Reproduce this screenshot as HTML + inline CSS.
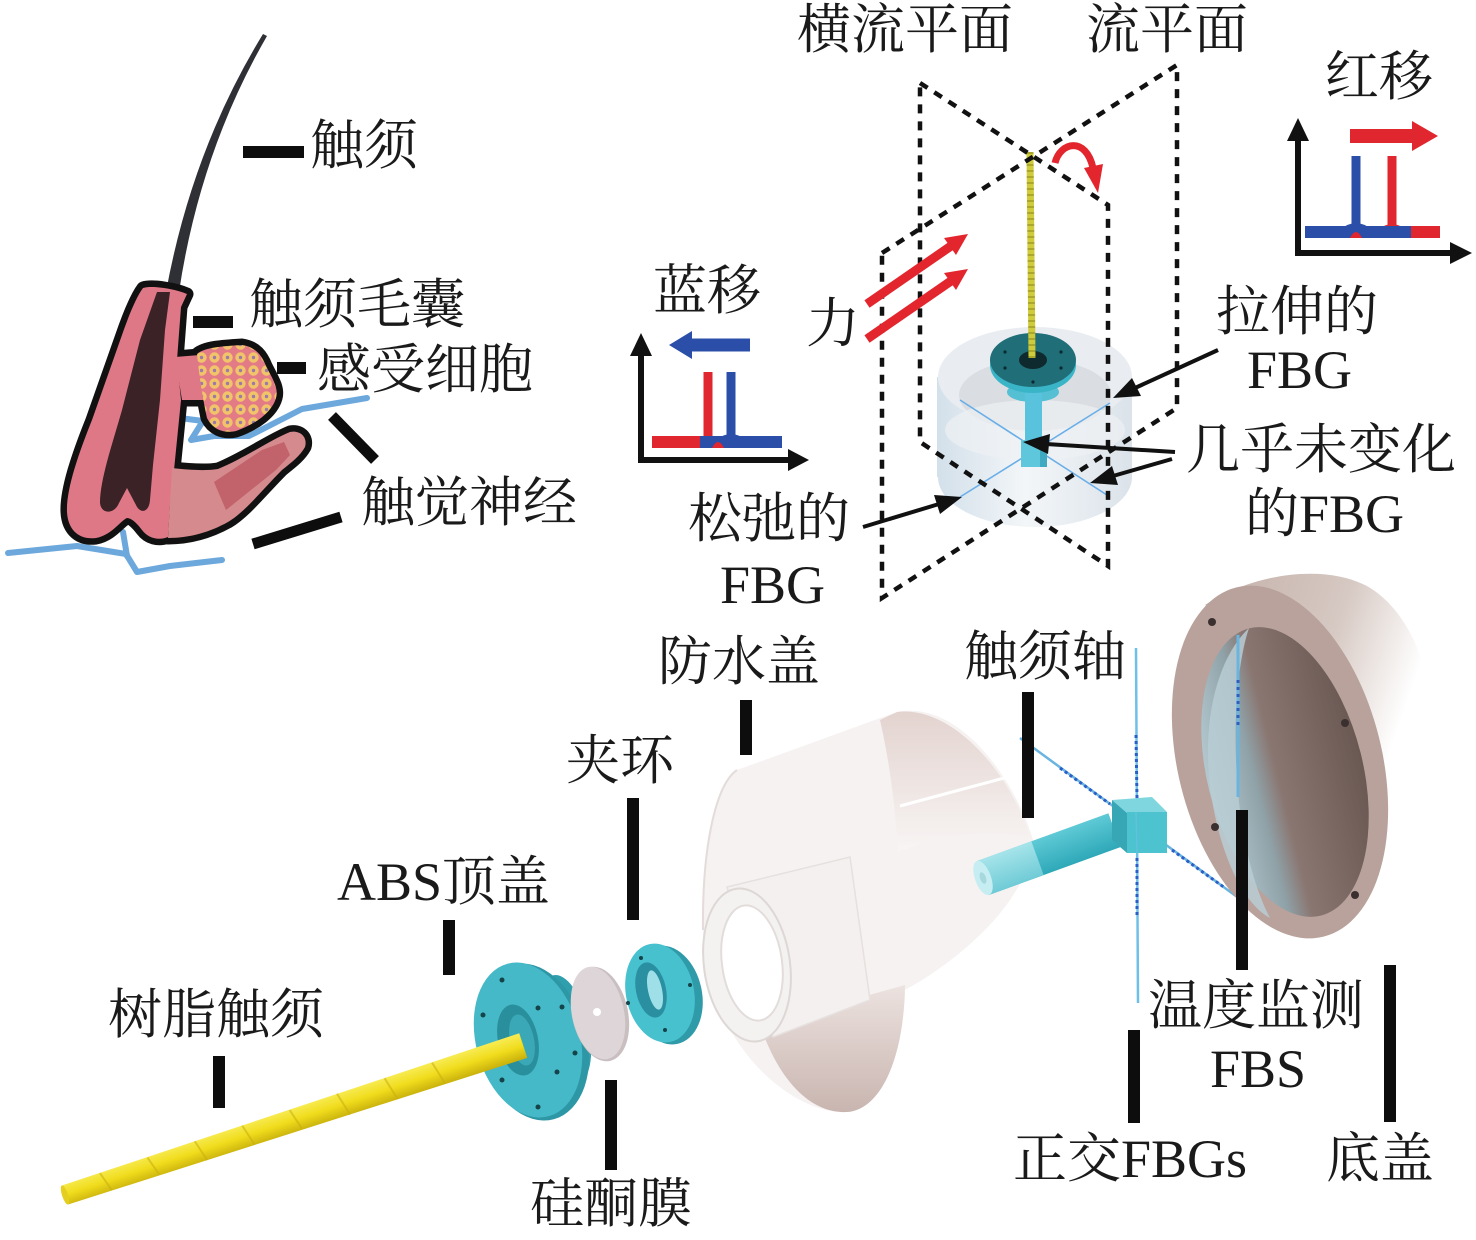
<!DOCTYPE html>
<html>
<head>
<meta charset="utf-8">
<style>
html,body{margin:0;padding:0;background:#fff;}
svg{display:block;}
text{font-family:"Liberation Serif","Noto Serif CJK SC",serif;font-size:54px;fill:#1a1a1a;}
</style>
</head>
<body>
<svg width="1476" height="1240" viewBox="0 0 1476 1240" xmlns="http://www.w3.org/2000/svg">
<defs>
  <pattern id="cells" width="13" height="13" patternUnits="userSpaceOnUse">
    <rect width="13" height="13" fill="#e27b86"/>
    <circle cx="6.5" cy="6.5" r="5.2" fill="#f2c46a"/>
    <circle cx="6.5" cy="6.5" r="1.7" fill="#9a7aa8"/>
  </pattern>
  <linearGradient id="cylG" x1="0" y1="0" x2="1" y2="0">
    <stop offset="0" stop-color="#d3e0ea"/>
    <stop offset="0.45" stop-color="#f3f6f8"/>
    <stop offset="1" stop-color="#dbe3ea"/>
  </linearGradient>
  <linearGradient id="rodG" x1="0" y1="0" x2="0" y2="1">
    <stop offset="0" stop-color="#f8ec55"/>
    <stop offset="0.5" stop-color="#f0dc1c"/>
    <stop offset="1" stop-color="#c8b00c"/>
  </linearGradient>
  <linearGradient id="wpTop" x1="0" y1="0" x2="0" y2="1">
    <stop offset="0" stop-color="#e3d3cf"/>
    <stop offset="1" stop-color="#f8f5f4"/>
  </linearGradient>
  <linearGradient id="wpBot" x1="0" y1="0" x2="0" y2="1">
    <stop offset="0" stop-color="#ece2df"/>
    <stop offset="1" stop-color="#c9b5b0"/>
  </linearGradient>
  <linearGradient id="baseBody" x1="0" y1="0" x2="1" y2="0.3">
    <stop offset="0" stop-color="#c2b0a8"/>
    <stop offset="0.6" stop-color="#d6c8c2"/>
    <stop offset="1" stop-color="#ffffff"/>
  </linearGradient>
  <linearGradient id="baseIn" x1="0" y1="0" x2="1" y2="0">
    <stop offset="0" stop-color="#b4c8d0"/>
    <stop offset="0.3" stop-color="#8fa2a8"/>
    <stop offset="0.45" stop-color="#8a7671"/>
    <stop offset="1" stop-color="#6a5853"/>
  </linearGradient>
  <linearGradient id="shaftG" x1="0" y1="0" x2="0" y2="1">
    <stop offset="0" stop-color="#5fcad6"/>
    <stop offset="1" stop-color="#2ea8b8"/>
  </linearGradient>
  <linearGradient id="shaftL" x1="0" y1="0" x2="0" y2="1">
    <stop offset="0" stop-color="#a6e4ea"/>
    <stop offset="1" stop-color="#6fcbd6"/>
  </linearGradient>
</defs>

<!-- ================= Left: biological whisker ================= -->
<path d="M263,34 Q192,150 166,292 L179,292 Q200,152 267,36 Z" fill="#2f2f36"/>

<g fill="none" stroke="#5d9fd8" stroke-width="6" stroke-linejoin="round" stroke-linecap="round" opacity="0.9">
  <polyline points="8,553 77,546 126,554 137,572 170,566 222,560"/>
  <line x1="123" y1="532" x2="127" y2="556"/>
  <polyline points="172,417 203,421 191,440 214,436 249,436 302,409 367,398"/>
</g>

<g fill="none" stroke="#111" stroke-width="13" stroke-linejoin="round">
  <path d="M143,288 C152,285 176,289 187,294 L181,307 L177,360 L181,400 L174,470 L170,505 L168,537 C158,541 148,538 142,530 C136,522 131,518 127,518 C120,521 112,535 96,538 C80,540 68,531 67,512 C66,490 78,455 92,420 L122,335 C130,312 137,296 143,288 Z"/>
  <path d="M175,357 L200,355 L205,400 L182,400 Z"/>
  <path d="M197,354 C205,347 225,346 242,345 C256,347 262,356 266,366 C272,378 279,388 276,398 C272,412 256,424 236,431 C222,434 212,428 207,418 C203,400 199,375 197,354 Z"/>
  <path d="M172,468 C190,470 205,471 218,469 C245,458 270,440 290,432 C300,430 308,437 305,447 C300,456 292,462 282,470 C262,490 245,512 228,522 C210,532 190,538 168,538 Z"/>
</g>
<path d="M143,288 C152,285 176,289 187,294 L181,307 L177,360 L181,400 L174,470 L170,505 L168,537 C158,541 148,538 142,530 C136,522 131,518 127,518 C120,521 112,535 96,538 C80,540 68,531 67,512 C66,490 78,455 92,420 L122,335 C130,312 137,296 143,288 Z" fill="#df7886"/>
<path d="M175,357 L200,355 L205,400 L182,400 Z" fill="#df7886"/>
<path d="M197,354 C205,347 225,346 242,345 C256,347 262,356 266,366 C272,378 279,388 276,398 C272,412 256,424 236,431 C222,434 212,428 207,418 C203,400 199,375 197,354 Z" fill="url(#cells)"/>
<path d="M172,468 C190,470 205,471 218,469 C245,458 270,440 290,432 C300,430 308,437 305,447 C300,456 292,462 282,470 C262,490 245,512 228,522 C210,532 190,538 168,538 Z" fill="#d58a8d"/>
<path d="M214,482 L262,450 L284,442 L290,455 L276,470 L226,510 Z" fill="#c2626a"/>
<path d="M157,292 L170,292 L165,330 L160,400 L153,465 L150,500 C149,513 140,514 136,505 L127,488 L119,503 C114,515 101,514 100,503 C100,480 112,445 122,410 L140,340 Z" fill="#3a2226"/>

<g fill="#0d0d0d">
  <rect x="243" y="146" width="61" height="12"/>
  <rect x="193" y="316" width="40" height="12"/>
  <rect x="277" y="362" width="29" height="12"/>
</g>
<g stroke="#0d0d0d" stroke-width="11" stroke-linecap="butt">
  <line x1="332" y1="416" x2="375" y2="460"/>
  <line x1="253" y1="544" x2="341" y2="517"/>
</g>

<!-- ================= Top-middle: sensor with planes ================= -->
<g>
  <rect x="937" y="377" width="195" height="100" fill="url(#cylG)"/>
  <ellipse cx="1035" cy="477" rx="97" ry="50" fill="url(#cylG)"/>
  <ellipse cx="1035" cy="377" rx="97" ry="50" fill="#e9edf1"/>
  <ellipse cx="1035" cy="395" rx="76" ry="36" fill="#dadde1"/>
  <ellipse cx="1035" cy="430" rx="90" ry="30" fill="#eef1f3" opacity="0.7"/>
</g>
<g stroke="#6aaee8" stroke-width="1.6">
  <line x1="960" y1="400" x2="1110" y2="497"/>
  <line x1="960" y1="497" x2="1110" y2="403"/>
</g>
<ellipse cx="1033" cy="392" rx="26" ry="10" fill="#55bfd3"/>
<rect x="1025" y="392" width="17" height="50" fill="#59c3de"/>
<rect x="1021" y="440" width="26" height="27" fill="#5fc7dc"/>
<rect x="1040" y="440" width="7" height="27" fill="#3fa9c2"/>
<ellipse cx="1033" cy="365" rx="43" ry="28" fill="#3ab5c8"/>
<ellipse cx="1033" cy="360" rx="43" ry="27" fill="#1f6e78"/>
<ellipse cx="1033" cy="360" rx="14" ry="9" fill="#0e2a2e"/>
<g fill="#0b2a2e">
  <circle cx="1005" cy="352" r="1.6"/><circle cx="1061" cy="352" r="1.6"/>
  <circle cx="1005" cy="368" r="1.6"/><circle cx="1061" cy="368" r="1.6"/>
  <circle cx="1033" cy="338" r="1.6"/><circle cx="1033" cy="382" r="1.6"/>
</g>
<line x1="1030" y1="152" x2="1032" y2="358" stroke="#cfcb3c" stroke-width="7"/>
<line x1="1030" y1="152" x2="1032" y2="358" stroke="#7f7c18" stroke-width="7" stroke-dasharray="2 4" opacity="0.45"/>

<g fill="none" stroke="#111" stroke-width="4.5" stroke-dasharray="9 8">
  <polygon points="920,83 1108,205 1108,566 920,442"/>
  <polygon points="882,253 1177,65 1177,408 882,598"/>
</g>

<path d="M1055,163 C1060,142 1086,136 1093,168" fill="none" stroke="#e3262e" stroke-width="7"/>
<polygon points="1084,168 1103,164 1098,193" fill="#e3262e"/>

<g stroke="#e3262e" stroke-width="9" fill="#e3262e">
  <line x1="867" y1="304" x2="951" y2="246"/>
  <line x1="867" y1="339" x2="951" y2="281"/>
  <polygon points="968,234 956,255 944,238" stroke="none"/>
  <polygon points="968,269 956,290 944,273" stroke="none"/>
</g>

<g stroke="#111" stroke-width="4" fill="#111">
  <line x1="1218" y1="350" x2="1135" y2="388"/>
  <polygon points="1113,398 1141,396 1132,378" stroke="none"/>
  <line x1="1175" y1="452" x2="1046" y2="444"/>
  <polygon points="1023,442 1050,434 1048,454" stroke="none"/>
  <line x1="1172" y1="459" x2="1113" y2="476"/>
  <polygon points="1090,483 1118,485 1112,466" stroke="none"/>
  <line x1="863" y1="527" x2="939" y2="504"/>
  <polygon points="962,497 940,514 934,495" stroke="none"/>
</g>

<!-- blue shift graph -->
<g>
  <line x1="641" y1="460" x2="641" y2="352" stroke="#111" stroke-width="6"/>
  <polygon points="630,356 652,356 641,333" fill="#111"/>
  <line x1="638" y1="460" x2="790" y2="460" stroke="#111" stroke-width="6"/>
  <polygon points="788,449 788,471 809,460" fill="#111"/>
  <rect x="652" y="436" width="50" height="12" fill="#e0262e"/>
  <line x1="708" y1="372" x2="708" y2="438" stroke="#e0262e" stroke-width="9"/>
  <path d="M696,442 Q708,430 720,442 Z" fill="#e0262e"/>
  <rect x="700" y="436" width="82" height="12" fill="#2b4fa8"/>
  <line x1="731" y1="372" x2="731" y2="438" stroke="#2b4fa8" stroke-width="9"/>
  <path d="M716,440 Q731,428 746,440 Z" fill="#2b4fa8"/>
  <path d="M712,448 Q718,436 724,448 Z" fill="#e0262e"/>
  <line x1="750" y1="345" x2="688" y2="345" stroke="#2b4fa8" stroke-width="13"/>
  <polygon points="692,331 692,359 669,345" fill="#2b4fa8"/>
</g>

<!-- red shift graph -->
<g>
  <line x1="1298" y1="253" x2="1298" y2="138" stroke="#111" stroke-width="6"/>
  <polygon points="1287,141 1309,141 1298,118" fill="#111"/>
  <line x1="1295" y1="253" x2="1452" y2="253" stroke="#111" stroke-width="6"/>
  <polygon points="1450,242 1450,264 1472,253" fill="#111"/>
  <rect x="1392" y="226" width="48" height="12" fill="#e0262e"/>
  <line x1="1392" y1="156" x2="1392" y2="230" stroke="#e0262e" stroke-width="9"/>
  <path d="M1378,230 Q1392,218 1406,230 Z" fill="#e0262e"/>
  <rect x="1305" y="226" width="106" height="12" fill="#2b4fa8"/>
  <line x1="1356" y1="156" x2="1356" y2="228" stroke="#2b4fa8" stroke-width="9"/>
  <path d="M1340,230 Q1356,216 1372,230 Z" fill="#2b4fa8"/>
  <path d="M1350,238 Q1356,226 1362,238 Z" fill="#e0262e"/>
  <line x1="1350" y1="136" x2="1414" y2="136" stroke="#e0262e" stroke-width="14"/>
  <polygon points="1412,121 1412,151 1438,136" fill="#e0262e"/>
</g>

<!-- ================= Bottom: exploded view ================= -->
<!-- waterproof cover -->
<g>
  <path d="M737,770 L897,712 C960,700 1015,780 1033,840 C1030,900 960,960 905,990 C903,1060 880,1110 847,1112 C790,1115 705,1040 703,930 C702,850 715,785 737,770 Z" fill="#f5f2f1"/>
  <path d="M703,930 C702,850 715,785 737,770" fill="none" stroke="#e3dcda" stroke-width="2"/>
  <path d="M880,720 L897,712 C950,705 1010,770 1030,838 C990,828 940,835 898,852 C895,800 888,755 880,720 Z" fill="url(#wpTop)"/>
  <path d="M758,1018 C810,1012 870,995 905,985 C904,1060 880,1110 847,1112 C808,1114 775,1075 758,1018 Z" fill="url(#wpBot)"/>
  <line x1="900" y1="806" x2="1023" y2="773" stroke="#ffffff" stroke-width="3"/>
  <polygon points="727,887 850,857 870,1000 773,1037" fill="#f3f0ef" stroke="#e6e0de" stroke-width="1.5"/>
  <ellipse cx="747" cy="965" rx="43" ry="77" transform="rotate(-8 747 965)" fill="#f4f2f1" stroke="#ddd7d5" stroke-width="2"/>
  <ellipse cx="752" cy="963" rx="30" ry="58" transform="rotate(-8 752 963)" fill="#ffffff" stroke="#e2dcda" stroke-width="2"/>
</g>

<!-- ABS top cover -->
<g>
  <ellipse cx="565" cy="1030" rx="24" ry="56" fill="#2f9fae" transform="rotate(-12 565 1030)"/>
  <ellipse cx="533" cy="1042" rx="54" ry="80" fill="#2e97a6" transform="rotate(-15 533 1042)"/>
  <ellipse cx="528" cy="1040" rx="52" ry="79" fill="#45b9c7" transform="rotate(-15 528 1040)"/>
  <ellipse cx="518" cy="1040" rx="20" ry="36" fill="#2a8f9c" transform="rotate(-12 518 1040)"/>
  <ellipse cx="522" cy="1040" rx="12" ry="26" fill="#3aa8b6" transform="rotate(-12 522 1040)"/>
  <g fill="#14434a">
    <circle cx="502" cy="980" r="2.5"/><circle cx="538" cy="1008" r="2.5"/>
    <circle cx="483" cy="1015" r="2.5"/><circle cx="575" cy="1053" r="2.5"/>
    <circle cx="557" cy="1072" r="2.5"/><circle cx="502" cy="1080" r="2.5"/>
    <circle cx="538" cy="1107" r="2.5"/><circle cx="562" cy="1007" r="2.5"/>
  </g>
</g>
<ellipse cx="600" cy="1014" rx="28" ry="48" transform="rotate(-12 600 1014)" fill="#c9bfc1"/>
<ellipse cx="598" cy="1013" rx="26" ry="47" transform="rotate(-12 598 1013)" fill="#ddd5d7"/>
<circle cx="597" cy="1012" r="4" fill="#fff"/>
<ellipse cx="667" cy="995" rx="35" ry="50" transform="rotate(-12 667 995)" fill="#2f9aa8"/>
<ellipse cx="660" cy="993" rx="34" ry="50" transform="rotate(-12 660 993)" fill="#48c1cf"/>
<ellipse cx="651" cy="990" rx="15" ry="28" transform="rotate(-12 651 990)" fill="#2a8fa0"/>
<ellipse cx="655" cy="990" rx="7" ry="20" transform="rotate(-12 655 990)" fill="#9fe0e8"/>
<g fill="#14434a">
  <circle cx="641" cy="958" r="2"/><circle cx="665" cy="1030" r="2"/><circle cx="628" cy="1003" r="2"/><circle cx="690" cy="985" r="2"/>
</g>

<!-- resin whisker rod -->
<g transform="translate(65,1195) rotate(-18.06)">
  <polygon points="0,-10 482,-13 482,13 0,10" fill="url(#rodG)"/>
  <g stroke="#c8ae10" stroke-width="2" opacity="0.55">
    <line x1="40" y1="-10" x2="46" y2="10"/><line x1="90" y1="-10" x2="96" y2="10"/>
    <line x1="140" y1="-11" x2="146" y2="11"/><line x1="190" y1="-11" x2="196" y2="11"/>
    <line x1="240" y1="-11" x2="246" y2="11"/><line x1="290" y1="-12" x2="296" y2="12"/>
    <line x1="340" y1="-12" x2="346" y2="12"/><line x1="390" y1="-12" x2="396" y2="12"/>
  </g>
  <ellipse cx="0" cy="0" rx="3" ry="10" fill="#e4cf20"/>
</g>

<!-- fibers -->
<g fill="none">
  <line x1="1020" y1="738" x2="1255" y2="910" stroke="#6ab4e0" stroke-width="2.5"/>
  <line x1="1060" y1="768" x2="1110" y2="804" stroke="#2a5fc8" stroke-width="3" stroke-dasharray="3 3"/>
  <line x1="1172" y1="850" x2="1225" y2="888" stroke="#2a5fc8" stroke-width="3" stroke-dasharray="3 3"/>
  <line x1="1136" y1="648" x2="1138" y2="1003" stroke="#6fc0e8" stroke-width="2.5"/>
  <line x1="1136" y1="735" x2="1137" y2="800" stroke="#2a5fc8" stroke-width="3" stroke-dasharray="3 3"/>
  <line x1="1137" y1="858" x2="1137" y2="918" stroke="#2a5fc8" stroke-width="3" stroke-dasharray="3 3"/>
</g>
<g transform="translate(983,878) rotate(-20)">
  <rect x="0" y="-18" width="140" height="36" fill="url(#shaftG)"/>
  <rect x="0" y="-18" width="58" height="36" fill="url(#shaftL)"/>
  <ellipse cx="0" cy="0" rx="8" ry="18" fill="#c6eef2"/>
  <ellipse cx="0" cy="0" rx="3" ry="6" fill="#a7d8de"/>
</g>
<polygon points="1112,800 1152,797 1167,812 1127,813" fill="#7fd6de"/>
<polygon points="1112,800 1127,813 1127,853 1112,840" fill="#37a7b5"/>
<rect x="1127" y="812" width="40" height="41" fill="#4cc3cf"/>
<line x1="1136" y1="812" x2="1137" y2="853" stroke="#6fc0e8" stroke-width="1.5" opacity="0.6"/>

<!-- bottom cover -->
<g>
  <path d="M1205,605 C1250,575 1320,563 1365,585 C1405,606 1428,660 1432,710 L1392,770 L1300,640 Z" fill="url(#baseBody)"/>
  <ellipse cx="1280" cy="762" rx="102" ry="180" transform="rotate(-14 1280 762)" fill="#b8a29b"/>
  <ellipse cx="1285" cy="772" rx="78" ry="148" transform="rotate(-14 1285 772)" fill="url(#baseIn)"/>
  <path d="M1249,628 C1215,660 1200,730 1212,800 C1222,860 1245,905 1270,918 C1250,880 1238,820 1236,760 C1234,700 1240,655 1249,628 Z" fill="#b9ccd4" opacity="0.85"/>
  <line x1="1238" y1="635" x2="1238" y2="797" stroke="#6ab4e0" stroke-width="3"/>
  <line x1="1238" y1="680" x2="1238" y2="727" stroke="#2a5fc8" stroke-width="3" stroke-dasharray="3 4"/>
  <g fill="#3a3030">
    <circle cx="1212" cy="622" r="4"/><circle cx="1345" cy="723" r="4"/>
    <circle cx="1215" cy="827" r="4"/><circle cx="1355" cy="895" r="4"/>
  </g>
</g>

<g fill="#0d0d0d">
  <rect x="213" y="1056" width="12" height="52"/>
  <rect x="443" y="920" width="12" height="55"/>
  <rect x="627" y="798" width="12" height="122"/>
  <rect x="605" y="1080" width="12" height="90"/>
  <rect x="740" y="700" width="12" height="55"/>
  <rect x="1022" y="692" width="12" height="126"/>
  <rect x="1128" y="1030" width="12" height="93"/>
  <rect x="1236" y="810" width="12" height="160"/>
  <rect x="1384" y="965" width="12" height="157"/>
</g>

<!-- ================= Labels ================= -->
<text x="310" y="164">触须</text>
<text x="249" y="323">触须毛囊</text>
<text x="317" y="388">感受细胞</text>
<text x="361" y="521">触觉神经</text>
<text x="797" y="48">横流平面</text>
<text x="1086" y="48">流平面</text>
<text x="1325" y="95">红移</text>
<text x="653" y="309">蓝移</text>
<text x="806" y="342">力</text>
<text x="1216" y="330">拉伸的</text>
<text x="1247" y="388">FBG</text>
<text x="1186" y="468">几乎未变化</text>
<text x="1245" y="532">的FBG</text>
<text x="688" y="537">松弛的</text>
<text x="720" y="603">FBG</text>
<text x="658" y="680">防水盖</text>
<text x="964" y="675">触须轴</text>
<text x="566" y="779">夹环</text>
<text x="337" y="900">ABS顶盖</text>
<text x="108" y="1033">树脂触须</text>
<text x="1148" y="1024">温度监测</text>
<text x="1210" y="1087">FBS</text>
<text x="1013" y="1177">正交FBGs</text>
<text x="1326" y="1177">底盖</text>
<text x="530" y="1222">硅酮膜</text>
</svg>
</body>
</html>
